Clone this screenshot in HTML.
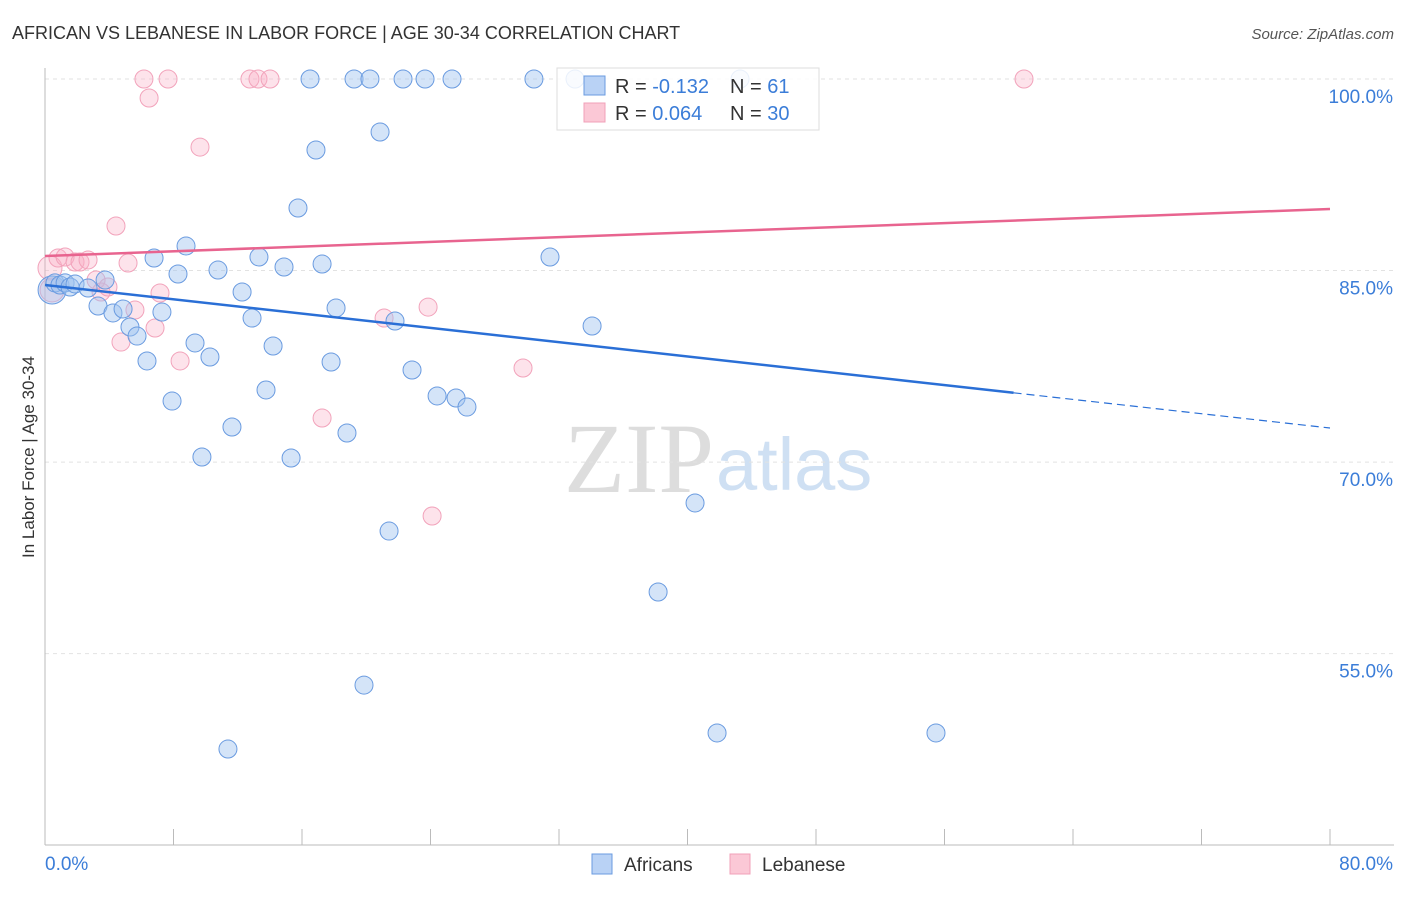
<!DOCTYPE html>
<html><head><meta charset="utf-8"><style>
body{margin:0;background:#fff;font-family:"Liberation Sans",sans-serif}
svg text{font-family:"Liberation Sans",sans-serif}
</style></head><body>
<svg id="c" width="1406" height="892">
<text x="12" y="39" font-size="18" fill="#333">AFRICAN VS LEBANESE IN LABOR FORCE | AGE 30-34 CORRELATION CHART</text>
<text x="1394" y="39" font-size="15" fill="#555" font-style="italic" text-anchor="end">Source: ZipAtlas.com</text>
<text x="0" y="0" font-size="17" fill="#333" text-anchor="middle" transform="translate(34,457) rotate(-90)">In Labor Force | Age 30-34</text>
<text x="714" y="492" font-size="100" fill="#ddd" text-anchor="end" style="font-family:'Liberation Serif',serif">ZIP</text>
<text x="716" y="490" font-size="74" fill="#cfe0f3">atlas</text>
<g id="grid"></g><g id="pts"></g><g id="lines"></g>
<g>
<rect x="557" y="68" width="262" height="62" fill="#fff" fill-opacity="0.85" stroke="#ddd"/>
<rect x="584" y="76" width="21" height="19" fill="#b9d2f5" stroke="#6a9be0"/>
<rect x="584" y="103" width="21" height="19" fill="#fbc8d6" stroke="#f0a0b8"/>
<text x="615" y="93" font-size="20" fill="#333">R = <tspan fill="#3b7dd8">-0.132</tspan></text>
<text x="730" y="93" font-size="20" fill="#333">N = <tspan fill="#3b7dd8"> 61</tspan></text>
<text x="615" y="120" font-size="20" fill="#333">R = <tspan fill="#3b7dd8"> 0.064</tspan></text>
<text x="730" y="120" font-size="20" fill="#333">N = <tspan fill="#3b7dd8">30</tspan></text>
</g>
<g>
<rect x="592" y="854" width="20" height="20" fill="#b9d2f5" stroke="#6a9be0"/>
<text x="624" y="871" font-size="19" fill="#333">Africans</text>
<rect x="730" y="854" width="20" height="20" fill="#fbc8d6" stroke="#f0a0b8"/>
<text x="762" y="871" font-size="19" fill="#333">Lebanese</text>
</g>
</svg>
<script>
const yTicks=[100,85,70,55];
const xTickLabels=["0.0%","80.0%"];
const afrX=[0.44,0.62,0.93,1.25,1.56,1.87,2.68,3.30,3.74,4.23,4.86,5.29,5.73,6.35,6.79,7.28,7.91,8.28,8.78,9.34,9.77,10.27,10.77,11.64,11.39,12.27,12.89,13.32,13.76,14.20,14.88,15.32,15.75,16.50,16.87,17.25,17.81,18.12,18.80,19.24,19.86,20.23,20.86,21.42,21.79,22.29,22.85,23.66,24.41,25.34,25.59,26.27,30.44,31.44,33.00,34.06,38.17,40.47,41.84,43.27,55.47];
const afrY=[83.48,84.03,83.87,84.03,83.71,83.95,83.63,82.22,84.26,81.68,81.99,80.58,79.87,77.92,85.98,81.75,74.78,84.73,86.92,79.33,70.40,78.23,85.04,72.75,47.53,83.32,81.28,86.06,75.65,79.09,85.28,70.32,89.90,100,94.44,85.51,77.84,82.07,72.28,100,52.54,100,95.85,64.60,81.05,100,77.21,100,75.18,100,75.02,74.31,100,86.06,100,80.66,59.83,66.80,48.79,100,48.79];
const lebX=[0.31,0.44,0.81,1.25,1.87,2.18,2.68,3.18,3.49,3.92,4.42,4.73,5.17,5.60,6.16,6.48,6.85,7.16,7.66,8.41,9.65,12.76,13.26,14.01,17.25,21.11,23.85,24.10,29.76,60.95];
const lebY=[85.20,83.48,85.98,86.06,85.67,85.67,85.83,84.26,83.32,83.71,88.49,79.40,85.59,81.91,100,98.51,80.50,83.24,100,77.92,94.67,100,100,100,73.45,81.28,82.14,65.78,77.37,100];
const afrTrend=[83.87,72.67];
const lebTrend=[86.14,89.82];
const X=v=>45+v/80*1285, Y=v=>79+(100-v)*12.77;
const NS="http://www.w3.org/2000/svg";
function mk(t,a,p){const e=document.createElementNS(NS,t);for(const k in a)e.setAttribute(k,a[k]);p.appendChild(e);return e;}
const g=document.getElementById('grid');
yTicks.forEach(v=>{
 const l=mk('line',{x1:45,x2:1394,y1:Y(v),y2:Y(v),stroke:'#e2e2e2','stroke-dasharray':'4,4'},g);
 
 
 const t=mk('text',{x:1393,y:Y(v)+24,'font-size':19,fill:'#3b7dd8','text-anchor':'end'},g);
 t.textContent=v.toFixed(1)+'%';
 
 
});
const ax=mk('line',{x1:45,x2:45,y1:68,y2:845,stroke:'#bbb'},g);


const bx=mk('line',{x1:45,x2:1394,y1:845,y2:845,stroke:'#bbb'},g);


for(let i=0;i<=10;i++){const tk=mk('line',{x1:X(i*8),x2:X(i*8),y1:829,y2:845,stroke:'#bbb'},g);
 
 }
[[0,45,'start'],[1,1393,'end']].forEach(([i,x,a])=>{const t=mk('text',{x:x,y:870,'font-size':19,fill:'#3b7dd8','text-anchor':a},g);t.textContent=xTickLabels[i];
 
 });
const p=document.getElementById('pts');
lebX.forEach((v,i)=>{const c=mk('circle',{cx:X(v),cy:Y(lebY[i]),r:i<2?12:9,fill:'rgba(248,175,198,0.35)',stroke:'#f2a3bb','stroke-width':1},p);
 
 });
afrX.forEach((v,i)=>{const c=mk('circle',{cx:X(v),cy:Y(afrY[i]),r:i==0?14:9,fill:'rgba(160,196,240,0.45)',stroke:'#6a9be0','stroke-width':1},p);
 
 });
const L=document.getElementById('lines');
const yA=x=>afrTrend[0]+(afrTrend[1]-afrTrend[0])*x/80;
const a1=mk('line',{x1:X(0),y1:Y(yA(0)),x2:X(60.3),y2:Y(yA(60.3)),stroke:'#2a6fd6','stroke-width':2.5},L);


const a2=mk('line',{x1:X(60.3),y1:Y(yA(60.3)),x2:X(80),y2:Y(yA(80)),stroke:'#2a6fd6','stroke-width':1.2,'stroke-dasharray':'8,5'},L);


const l1=mk('line',{x1:X(0),y1:Y(lebTrend[0]),x2:X(80),y2:Y(lebTrend[1]),stroke:'#e8648f','stroke-width':2.5},L);


</script>
</body></html>
